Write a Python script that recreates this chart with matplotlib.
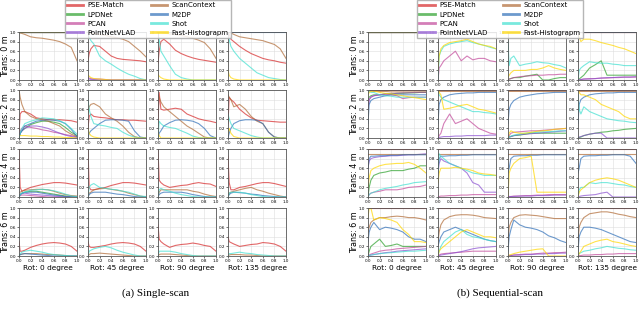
import matplotlib
matplotlib.use("Agg")
import matplotlib.pyplot as plt
from matplotlib.lines import Line2D

# ── data ──────────────────────────────────────────────────────────────────────
# recall grid shared by every curve (x axis of each small panel)
recall = [0, .02, .05, .1, .2, .3, .4, .5, .6, .7, .8, .9, 1.0]

methods = ["pse", "lpd", "pcan", "pnv", "sc", "m2dp", "shot", "fh"]
method_labels = ["PSE-Match", "LPDNet", "PCAN", "PointNetVLAD",
                 "ScanContext", "M2DP", "Shot", "Fast-Histograpm"]
method_colours = ["#d62728", "#2ca02c", "#c2489a", "#8a4fd0",
                  "#b06a35", "#2f6fb8", "#40e0d0", "#ffd700"]

row_labels = ["Trans: 0 m", "Trans: 2 m", "Trans: 4 m", "Trans: 6 m"]
col_labels = ["Rot: 0 degree", "Rot: 45 degree", "Rot: 90 degree", "Rot: 135 degree"]

ONES = [1, 1, 1, 1, 1, 1, 1, 1, 1, 1, 1, 1, 1]

# ── single-scan ───────────────────────────────────────────────────────────────
s0_0 = dict(pse=ONES, lpd=ONES, pcan=ONES, pnv=ONES, m2dp=ONES, shot=ONES, fh=ONES,
            sc=[1, .98, .97, .95, .9, .88, .87, .85, .83, .8, .75, .68, .4])
s0_45 = dict(pse=[.4, .55, .65, .72, .7, .6, .5, .45, .43, .42, .41, .4, .38],
             sc=[1, .99, .98, .97, .95, .93, .9, .88, .85, .8, .7, .6, .48],
             shot=[.95, .9, .82, .75, .5, .4, .33, .25, .18, .12, .08, .03, 0],
             fh=[.1, .08, .05, .03, .02, .01, 0, 0, 0, 0, 0, 0, 0],
             pcan=[.05, .04, .03, .02, .02, .01, 0, 0, 0, 0, 0, 0, 0],
             pnv=[.03, .02, .01, .01, 0, 0, 0, 0, 0, 0, 0, 0, 0],
             m2dp=ONES)
s0_90 = dict(pse=[.35, .6, .8, .85, .75, .62, .55, .5, .46, .43, .41, .39, .37],
             sc=[1, 1, .99, .98, .96, .95, .93, .9, .87, .83, .78, .65, .45],
             shot=[.95, .85, .6, .5, .3, .12, .05, .02, 0, 0, 0, 0, 0],
             fh=[.12, .08, .05, .02, 0, 0, 0, 0, 0, 0, 0, 0, 0],
             m2dp=ONES)
s0_135 = dict(pse=[1, .95, .85, .8, .7, .62, .55, .5, .45, .42, .4, .37, .35],
              sc=[1, 1, .98, .95, .9, .88, .86, .84, .82, .78, .74, .65, .45],
              shot=[1, .85, .7, .6, .45, .35, .25, .15, .1, .05, .03, .01, 0],
              fh=[.2, .1, .05, .02, 0, 0, 0, 0, 0, 0, 0, 0, 0],
              m2dp=ONES)

s2_0 = dict(sc=[1, .85, .7, .55, .45, .4, .38, .35, .3, .25, .15, .08, .03],
            pse=[.1, .5, .55, .55, .5, .42, .4, .38, .38, .38, .37, .36, .33],
            shot=[0, .1, .2, .3, .35, .38, .42, .41, .4, .36, .3, .2, .08],
            m2dp=[0, .1, .15, .25, .3, .35, .37, .38, .37, .35, .3, .18, .03],
            lpd=[0, .1, .15, .2, .28, .32, .35, .35, .33, .3, .22, .12, .05],
            pcan=[0, .15, .2, .25, .22, .2, .17, .15, .12, .1, .07, .05, .02],
            pnv=[0, .1, .15, .2, .25, .25, .23, .2, .15, .1, .06, .03, .01],
            fh=[.05, .05, .05, .05, .04, .04, .03, .03, .02, .02, .01, .01, 0])
s2_45 = dict(sc=[.5, .65, .7, .72, .65, .5, .42, .35, .25, .12, .03, 0, 0],
             pse=[.2, .45, .5, .45, .43, .42, .4, .38, .38, .37, .37, .36, .35],
             shot=[.8, .6, .45, .3, .27, .25, .22, .2, .12, .06, .02, 0, 0],
             m2dp=[0, .1, .15, .2, .3, .37, .38, .38, .37, .35, .15, .02, 0],
             fh=[.2, .1, .05, .02, 0, 0, 0, 0, 0, 0, 0, 0, 0])
s2_90 = dict(pse=[.3, .95, .6, .58, .6, .62, .6, .5, .45, .4, .37, .35, .32],
             sc=[.9, .85, .75, .65, .55, .45, .35, .25, .18, .1, .02, 0, 0],
             m2dp=[0, .1, .15, .25, .32, .37, .38, .37, .35, .3, .2, .05, 0],
             shot=[0, .35, .3, .25, .22, .2, .15, .1, .04, .01, 0, 0, 0],
             fh=[.1, .05, 0, 0, 0, 0, 0, 0, 0, 0, 0, 0, 0])
s2_135 = dict(pse=[.3, .85, .8, .75, .6, .5, .42, .37, .36, .35, .34, .33, .33],
              sc=[.9, .85, .8, .65, .7, .6, .45, .35, .3, .12, .02, 0, 0],
              m2dp=[0, .1, .2, .3, .36, .38, .38, .37, .3, .12, .02, 0, 0],
              shot=[.5, .4, .3, .2, .15, .1, .05, .02, 0, 0, 0, 0, 0],
              fh=[.1, .2, .1, .03, 0, 0, 0, 0, 0, 0, 0, 0, 0])

s4_0 = dict(pse=[1, .2, .12, .15, .2, .23, .26, .28, .3, .3, .29, .27, .25],
            sc=[.1, .1, .12, .14, .15, .16, .16, .15, .12, .08, .05, .03, .02],
            shot=[0, .05, .08, .1, .14, .15, .16, .15, .13, .1, .06, .02, .01],
            m2dp=[0, .05, .08, .1, .1, .1, .08, .06, .04, .03, .01, 0, 0],
            lpd=[0, .05, .08, .1, .12, .12, .1, .08, .06, .04, .02, .01, 0],
            pnv=[0, .05, .07, .08, .06, .05, .04, .03, .02, .01, 0, 0, 0],
            pcan=[0, .03, .04, .04, .03, .02, .01, 0, 0, 0, 0, 0, 0])
s4_45 = dict(pse=[1, .2, .15, .15, .18, .2, .24, .27, .3, .3, .29, .27, .25],
             shot=[0, .2, .25, .28, .2, .18, .16, .15, .12, .1, .06, .02, .01],
             sc=[0, .08, .1, .15, .17, .18, .16, .14, .12, .08, .05, .02, 0],
             m2dp=[0, .05, .08, .1, .1, .1, .08, .06, .05, .03, .01, 0, 0])
s4_90 = dict(pse=[1, .35, .3, .25, .2, .22, .24, .25, .28, .3, .28, .27, .22],
             sc=[0, .1, .15, .15, .15, .15, .15, .15, .12, .1, .06, .03, .01],
             shot=[0, .15, .18, .15, .12, .08, .05, .03, .01, 0, 0, 0, 0],
             m2dp=[0, .05, .08, .1, .1, .1, .1, .08, .05, .03, .01, 0, 0])
s4_135 = dict(pse=[.85, .3, .15, .15, .2, .22, .25, .28, .3, .3, .28, .25, .22],
              sc=[0, .08, .1, .12, .15, .18, .2, .15, .12, .08, .05, .02, 0],
              shot=[0, .08, .1, .1, .1, .08, .05, .03, .01, 0, 0, 0, 0],
              m2dp=[0, .05, .08, .1, .09, .08, .06, .05, .03, .02, .01, 0, 0])

s6_0 = dict(pse=[.3, .1, .1, .12, .18, .22, .25, .27, .28, .27, .25, .2, .1],
            shot=[0, .05, .08, .1, .12, .1, .08, .05, .03, .02, .01, 0, 0],
            sc=[0, .03, .04, .05, .05, .05, .04, .03, .03, .02, .01, 0, 0],
            m2dp=[0, .03, .04, .05, .04, .03, .02, .01, 0, 0, 0, 0, 0])
s6_45 = dict(pse=[.3, .2, .18, .18, .2, .22, .25, .27, .28, .27, .25, .2, .1],
             shot=[0, .1, .12, .15, .18, .2, .17, .12, .08, .05, .02, 0, 0],
             sc=[0, .03, .05, .05, .06, .05, .04, .03, .02, .01, 0, 0, 0])
s6_90 = dict(pse=[.65, .35, .3, .25, .18, .22, .24, .25, .27, .25, .22, .2, .1],
             shot=[0, .1, .1, .1, .1, .08, .05, .03, .01, 0, 0, 0, 0],
             sc=[0, .03, .04, .04, .04, .03, .02, .01, 0, 0, 0, 0, 0])
s6_135 = dict(pse=[.4, .3, .28, .25, .2, .22, .24, .25, .28, .27, .25, .2, .1],
              shot=[0, .05, .05, .06, .08, .06, .05, .03, .02, .01, 0, 0, 0],
              sc=[0, .02, .03, .03, .03, .02, .02, .01, 0, 0, 0, 0, 0])

# ── sequential-scan ───────────────────────────────────────────────────────────
q0_0 = dict(pse=ONES, lpd=ONES, pcan=ONES, pnv=ONES, sc=ONES, m2dp=ONES, shot=ONES, fh=ONES)
q0_45 = dict(pse=ONES, sc=ONES, m2dp=ONES,
             fh=[.2, .5, .65, .72, .78, .8, .82, .85, .8, .75, .72, .7, .65],
             shot=[0, .5, .6, .7, .75, .78, .8, .82, .78, .75, .72, .68, .65],
             pcan=[0, .25, .3, .4, .5, .6, .4, .5, .42, .45, .45, .4, .38])
q0_90 = dict(pse=ONES, sc=ONES, m2dp=ONES,
             shot=[.8, .3, .45, .5, .3, .33, .35, .38, .36, .35, .32, .3, .25],
             fh=[.05, .1, .15, .2, .2, .2, .22, .22, .25, .3, .25, .22, .2],
             lpd=[0, .02, .03, .05, .05, .08, .1, .12, 0, 0, .03, .05, .05],
             pcan=[0, .02, .03, .05, .07, .08, .09, .1, .1, .11, .11, .12, .12])
q0_135 = dict(pse=ONES, sc=ONES, m2dp=ONES,
              fh=[1, .9, .8, .85, .85, .82, .78, .75, .72, .68, .65, .6, .55],
              shot=[0, .2, .25, .3, .38, .36, .35, .35, .33, .32, .3, .3, .3],
              lpd=[0, .02, .05, .1, .25, .32, .4, .1, .1, .1, .1, .1, .1],
              pnv=[0, 0, .01, .02, .02, .03, .04, .05, .05, .06, .06, .06, .07],
              pcan=[0, 0, .01, .02, .03, .03, .04, .04, .05, .05, .06, .06, .06])

q2_0 = dict(pse=ONES,
            sc=[1, .98, .98, .97, .97, .97, .96, .96, .96, .96, .96, .96, .96],
            m2dp=[.3, .7, .78, .82, .85, .88, .9, .9, .9, .9, .9, .9, .9],
            shot=[.9, 1, .95, .95, .9, .88, .87, .85, .85, .85, .85, .85, .85],
            pnv=[.6, .8, .85, .88, .9, .92, .92, .93, .94, .94, .95, .95, .95],
            pcan=[.6, .8, .85, .88, .9, .9, .9, .88, .82, .84, .85, .85, .85],
            fh=[.9, .95, .97, .98, .95, .93, .92, .9, .88, .86, .84, .82, .8],
            lpd=[.8, .85, .88, .9, .9, .92, .92, .93, .93, .94, .94, .95, .95])
q2_45 = dict(pse=ONES,
             sc=[1, .97, .97, .97, .97, .97, .97, .97, .97, .97, .97, .97, .97],
             m2dp=[.3, .7, .8, .85, .9, .92, .93, .94, .94, .95, .95, .95, .95],
             shot=[1, .9, .85, .8, .75, .7, .65, .6, .55, .55, .53, .52, .5],
             fh=[1, .95, .9, .6, .62, .65, .68, .7, .65, .6, .58, .55, .52],
             pcan=[0, .05, .1, .3, .5, .3, .35, .4, .3, .2, .15, .1, .08],
             pnv=[0, .01, .02, .03, .03, .04, .04, .05, .05, .05, .05, .06, .06])
q2_90 = dict(pse=ONES,
             sc=[1, .97, .97, .97, .97, .97, .97, .97, .97, .97, .97, .97, .97],
             m2dp=[.3, .6, .7, .78, .85, .88, .9, .92, .93, .94, .95, .95, .95],
             pcan=[0, .05, .1, .12, .13, .14, .15, .15, .16, .17, .18, .19, .2],
             fh=[0, .1, .15, .12, .1, .1, .12, .14, .15, .16, .18, .19, .2],
             lpd=[0, .02, .03, .05, .06, .08, .1, .1, .1, .1, .1, .1, .1],
             shot=[0, .02, .04, .06, .08, .1, .11, .12, .13, .13, .14, .15, .15],
             pnv=[0, .02, .03, .05, .07, .08, .09, .1, .11, .12, .13, .14, .15])
q2_135 = dict(pse=ONES,
              sc=[1, .97, .97, .97, .97, .97, .97, .97, .97, .97, .97, .97, .97],
              m2dp=[.3, .7, .8, .85, .9, .92, .93, .94, .94, .95, .95, .95, .95],
              fh=[1, .95, .9, .9, .85, .8, .7, .65, .6, .55, .45, .4, .4],
              shot=[.9, .6, .5, .65, .55, .5, .45, .4, .38, .36, .35, .33, .32],
              lpd=[0, .01, .02, .05, .08, .1, .12, .13, .15, .16, .18, .19, .2],
              pnv=[0, .02, .03, .05, .08, .1, .1, 0, 0, 0, 0, 0, 0])

q4_0 = dict(pse=ONES,
            sc=[.9, .9, .9, .9, .9, .9, .9, .9, .9, .9, .9, .9, .9],
            m2dp=[.6, .8, .85, .85, .86, .86, .87, .87, .88, .88, .88, .88, .88],
            pnv=[.6, .75, .8, .82, .84, .85, .86, .86, .87, .88, .88, .89, .9],
            fh=[.2, .4, .55, .6, .65, .68, .69, .7, .7, .72, .68, .6, .5],
            lpd=[0, .2, .35, .45, .5, .52, .55, .55, .55, .58, .6, .65, .65],
            shot=[0, .05, .08, .1, .15, .18, .2, .22, .25, .27, .3, .31, .32],
            pcan=[0, .05, .08, .1, .12, .15, .15, .15, .17, .2, .21, .22, .25])
q4_45 = dict(pse=ONES,
             sc=[.9, .9, .9, .9, .9, .9, .9, .9, .9, .9, .9, .9, .9],
             m2dp=[.6, .8, .85, .85, .86, .86, .87, .87, .88, .88, .88, .88, .88],
             pnv=[.5, .7, .8, .75, .7, .65, .6, .5, .3, .25, .1, .1, .1],
             shot=[.5, .9, .85, .8, .7, .65, .6, .55, .5, .48, .45, .45, .45],
             fh=[.3, .5, .6, .6, .6, .62, .6, .58, .55, .5, .48, .47, .45],
             pcan=[0, .01, .02, .02, .03, .03, .04, .04, .05, .05, .05, .05, .05])
q4_90 = dict(pse=ONES,
             sc=[.9, .9, .9, .9, .9, .9, .9, .9, .9, .9, .9, .9, .9],
             m2dp=[.5, .6, .8, .85, .86, .86, .87, .87, .88, .88, .88, .88, .88],
             fh=[0, .5, .6, .7, .8, .82, .85, .1, .1, .1, .1, .1, .1],
             pcan=[0, .01, .01, .02, .02, .03, .03, .04, .04, .05, .05, .05, .05],
             pnv=[0, .01, .01, .01, .02, .02, .02, .03, .03, .03, .04, .04, .04])
q4_135 = dict(pse=ONES,
              sc=[.9, .9, .9, .9, .9, .9, .9, .9, .9, .9, .9, .9, .9],
              m2dp=[.5, .6, .8, .85, .86, .86, .87, .87, .88, .88, .88, .85, .7],
              fh=[0, .1, .15, .2, .3, .35, .38, .4, .38, .35, .3, .25, .2],
              shot=[0, .15, .2, .2, .3, .28, .3, .3, .28, .26, .25, .22, .2],
              pnv=[0, .01, .02, .03, .04, .05, .08, .1, 0, 0, 0, 0, 0])

q6_0 = dict(pse=ONES,
            sc=[.5, .6, .7, .75, .8, .8, .82, .83, .82, .8, .8, .78, .75],
            fh=[.8, 1, 1, .75, .8, .78, .75, .7, .55, .45, .3, .3, .28],
            m2dp=[.3, .5, .6, .7, .55, .6, .58, .55, .5, .4, .35, .35, .3],
            lpd=[0, .1, .2, .25, .35, .2, .22, .25, .2, .2, .2, .2, .2],
            pnv=[0, .01, .02, .03, .05, .07, .08, .1, .11, .12, .13, .14, .15],
            shot=[0, .01, .02, .03, .05, .06, .07, .08, .09, .1, .1, .11, .12],
            pcan=[0, .02, .04, .06, .1, .12, .13, .15, .16, .17, .18, .19, .2])
q6_45 = dict(pse=ONES,
             sc=[.3, .5, .65, .75, .82, .85, .86, .86, .85, .83, .8, .79, .78],
             m2dp=[.2, .3, .4, .5, .55, .6, .55, .5, .45, .4, .35, .32, .3],
             shot=[0, .1, .2, .3, .4, .5, .55, .45, .4, .38, .35, .32, .3],
             fh=[0, .1, .15, .2, .3, .4, .5, .55, .5, .45, .4, .4, .38],
             pnv=[0, .01, .02, .03, .05, .07, .09, .12, .15, .17, .18, .19, .2],
             pcan=[0, .02, .04, .05, .06, .07, .08, .09, .1, .1, .1, .1, .1])
q6_90 = dict(pse=ONES,
             sc=[.3, .6, .7, .8, .85, .86, .85, .84, .82, .8, .78, .78, .78],
             m2dp=[.1, .4, .55, .75, .65, .6, .58, .55, .5, .42, .38, .32, .28],
             fh=[0, .02, .03, .05, .08, .1, .12, .14, .15, 0, 0, 0, 0],
             pcan=[0, .01, .01, .02, .03, .04, .04, .05, .06, .06, .07, .07, .08],
             pnv=[0, .01, .01, .02, .02, .03, .03, .04, .04, .05, .05, .06, .06])
q6_135 = dict(pse=ONES,
              sc=[.3, .6, .7, .8, .88, .9, .92, .92, .9, .87, .85, .82, .8],
              m2dp=[.1, .4, .5, .6, .6, .58, .55, .5, .45, .4, .35, .3, .28],
              fh=[0, .05, .1, .2, .25, .3, .33, .35, .3, .28, .25, .22, .2],
              shot=[0, .05, .07, .1, .12, .15, .17, .2, .18, .16, .15, .13, .12],
              pcan=[0, .01, .01, .02, .02, .03, .03, .04, .04, .05, .05, .05, .05])

single_scan = [[s0_0, s0_45, s0_90, s0_135],
               [s2_0, s2_45, s2_90, s2_135],
               [s4_0, s4_45, s4_90, s4_135],
               [s6_0, s6_45, s6_90, s6_135]]
sequential_scan = [[q0_0, q0_45, q0_90, q0_135],
                   [q2_0, q2_45, q2_90, q2_135],
                   [q4_0, q4_45, q4_90, q4_135],
                   [q6_0, q6_45, q6_90, q6_135]]


# ── layout (pixels of the 640x309 figure) ─────────────────────────────────────
W, H = 640, 309
AX_W, AX_H = 58, 48
ROW_TOPS = [32, 90, 149, 208]
LEFT_COLS = [19, 88, 158, 228]
RIGHT_COLS = [368, 438, 508, 578]
TICKS = [0, .2, .4, .6, .8, 1.0]


def draw_panel(fig, grid, col_lefts, ylabel_right_px):
    for r in range(4):
        for c in range(4):
            rect = [col_lefts[c] / W, 1 - (ROW_TOPS[r] + AX_H) / H, AX_W / W, AX_H / H]
            ax = fig.add_axes(rect)
            series = grid[r][c]
            for key, colour in zip(methods, method_colours):
                if key in series:
                    ax.plot(recall, series[key], color=colour, alpha=0.7, lw=0.8)
            ax.set_xlim(0, 1)
            ax.set_ylim(0, 1)
            ax.set_xticks(TICKS)
            ax.set_yticks(TICKS)
            ax.set_xticklabels([f"{t:.1f}" for t in TICKS])
            ax.set_yticklabels([f"{t:.1f}" for t in TICKS])
            ax.tick_params(labelsize=3, length=1.2, width=0.4, pad=1)
            ax.grid(color="#dddddd", lw=0.4)
            for s in ax.spines.values():
                s.set_color("#555555")
                s.set_linewidth(0.6)
            if c == 0:
                ax.set_ylabel(row_labels[r], fontsize=5.8)
                ax.yaxis.set_label_coords((ylabel_right_px - col_lefts[0]) / AX_W, 0.5)
            if r == 3:
                ax.set_xlabel(col_labels[c], fontsize=5.3, labelpad=1.5)


def add_legend(fig, left_px):
    handles = [Line2D([], [], color=col, alpha=0.7, lw=2) for col in method_colours]
    fig.legend(handles, method_labels, loc="upper left",
               bbox_to_anchor=(left_px / W, 1.0), ncol=2, fontsize=5,
               handlelength=2.2, handletextpad=0.7, labelspacing=0.45,
               columnspacing=2.2, borderaxespad=0, borderpad=0.35,
               framealpha=0.85, edgecolor="#aaaaaa", fancybox=False)


fig = plt.figure(figsize=(W / 100, H / 100), dpi=100)
draw_panel(fig, single_scan, LEFT_COLS, 10)
draw_panel(fig, sequential_scan, RIGHT_COLS, 359)
add_legend(fig, 65)
add_legend(fig, 417)

fig.text(156 / W, 1 - 293 / H, "(a) Single-scan", ha="center", va="center",
         family="Liberation Serif", fontsize=8)
fig.text(500 / W, 1 - 293 / H, "(b) Sequential-scan", ha="center", va="center",
         family="Liberation Serif", fontsize=8)

fig.savefig("out.png", dpi=100)
